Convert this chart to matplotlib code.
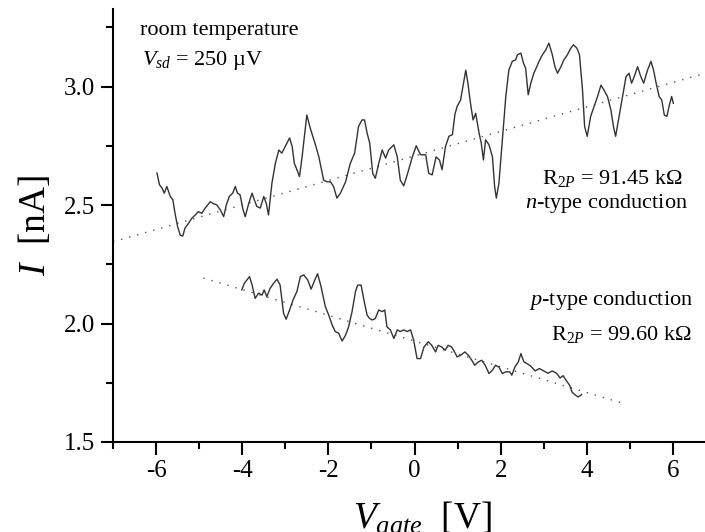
import matplotlib
matplotlib.use("Agg")
import matplotlib.pyplot as plt
from matplotlib.ticker import MultipleLocator, FormatStrFormatter

# n-type branch (upper trace)
upper_x = [-5.98, -5.92, -5.86, -5.81, -5.75, -5.67, -5.61, -5.56, -5.50, -5.44,
           -5.38, -5.33, -5.25, -5.17, -5.09, -5.02, -4.94, -4.86, -4.74, -4.67,
           -4.59, -4.51, -4.43, -4.37, -4.30, -4.22, -4.16, -4.11, -4.05, -3.98,
           -3.93, -3.85, -3.77, -3.72, -3.66, -3.58, -3.50, -3.44, -3.39, -3.31,
           -3.23, -3.15, -3.08, -3.00, -2.90, -2.84, -2.79, -2.73, -2.67, -2.61,
           -2.50, -2.42, -2.30, -2.22, -2.11, -2.03, -1.95, -1.88, -1.80, -1.72,
           -1.60, -1.49, -1.39, -1.30, -1.22, -1.16, -1.10, -1.04, -0.97, -0.91,
           -0.83, -0.75, -0.67, -0.60, -0.48, -0.40, -0.33, -0.25, -0.17, -0.05,
           0.04, 0.14, 0.26, 0.33, 0.41, 0.50, 0.58, 0.64, 0.72, 0.80,
           0.88, 0.94, 0.99, 1.07, 1.15, 1.19, 1.24, 1.30, 1.36, 1.42,
           1.50, 1.55, 1.60, 1.65, 1.73, 1.81, 1.86, 1.90, 1.96, 2.04,
           2.12, 2.19, 2.27, 2.35, 2.39, 2.47, 2.53, 2.58, 2.64, 2.70,
           2.77, 2.84, 2.89, 2.97, 3.05, 3.12, 3.20, 3.26, 3.32, 3.40,
           3.47, 3.55, 3.63, 3.69, 3.77, 3.83, 3.90, 3.95, 4.01, 4.09,
           4.17, 4.25, 4.33, 4.40, 4.48, 4.56, 4.62, 4.67, 4.75, 4.83,
           4.91, 4.98, 5.04, 5.10, 5.18, 5.24, 5.32, 5.41, 5.49, 5.55,
           5.61, 5.68, 5.74, 5.80, 5.86, 5.91, 5.97, 6.01]
upper_y = [2.635, 2.585, 2.571, 2.550, 2.578, 2.536, 2.522, 2.465, 2.409, 2.373,
           2.369, 2.402, 2.422, 2.444, 2.458, 2.472, 2.465, 2.487, 2.514, 2.506,
           2.500, 2.480, 2.451, 2.500, 2.536, 2.550, 2.578, 2.550, 2.543, 2.480,
           2.451, 2.506, 2.550, 2.522, 2.494, 2.487, 2.536, 2.506, 2.458, 2.592,
           2.676, 2.732, 2.719, 2.747, 2.783, 2.747, 2.676, 2.649, 2.620, 2.703,
           2.880, 2.824, 2.754, 2.703, 2.605, 2.598, 2.598, 2.578, 2.529, 2.550,
           2.598, 2.676, 2.719, 2.831, 2.859, 2.859, 2.803, 2.761, 2.634, 2.613,
           2.676, 2.732, 2.698, 2.732, 2.754, 2.703, 2.605, 2.581, 2.627, 2.703,
           2.750, 2.712, 2.712, 2.634, 2.627, 2.703, 2.690, 2.649, 2.747, 2.790,
           2.797, 2.884, 2.916, 2.943, 3.027, 3.069, 3.014, 2.929, 2.859, 2.887,
           2.803, 2.761, 2.690, 2.775, 2.754, 2.703, 2.578, 2.529, 2.592, 2.775,
           2.958, 3.069, 3.106, 3.113, 3.134, 3.141, 3.099, 3.077, 2.965, 3.014,
           3.056, 3.084, 3.106, 3.134, 3.155, 3.183, 3.134, 3.084, 3.056, 3.084,
           3.113, 3.134, 3.162, 3.176, 3.162, 3.134, 2.987, 2.831, 2.790, 2.874,
           2.916, 2.958, 3.006, 2.985, 2.958, 2.901, 2.830, 2.790, 2.874, 2.958,
           3.041, 3.056, 3.014, 3.041, 3.084, 3.049, 3.014, 3.069, 3.106, 3.069,
           3.014, 2.958, 2.943, 2.880, 2.874, 2.916, 2.958, 2.929]

# p-type branch (lower trace)
lower_x = [-4.01, -3.95, -3.89, -3.83, -3.77, -3.70, -3.62, -3.54, -3.49, -3.43,
           -3.35, -3.27, -3.19, -3.12, -3.04, -2.98, -2.90, -2.82, -2.73, -2.65,
           -2.57, -2.48, -2.40, -2.33, -2.25, -2.17, -2.07, -1.99, -1.91, -1.84,
           -1.76, -1.68, -1.60, -1.53, -1.45, -1.37, -1.32, -1.24, -1.16, -1.10,
           -1.04, -0.98, -0.91, -0.83, -0.75, -0.69, -0.64, -0.56, -0.48, -0.40,
           -0.33, -0.25, -0.17, -0.09, -0.02, 0.06, 0.14, 0.22, 0.32, 0.40,
           0.49, 0.55, 0.63, 0.71, 0.78, 0.86, 0.91, 0.99, 1.07, 1.17,
           1.25, 1.33, 1.40, 1.48, 1.56, 1.64, 1.73, 1.81, 1.88, 1.96,
           2.04, 2.12, 2.21, 2.26, 2.33, 2.41, 2.47, 2.54, 2.62, 2.70,
           2.80, 2.90, 3.00, 3.10, 3.20, 3.30, 3.38, 3.45, 3.52, 3.60,
           3.66, 3.72, 3.80, 3.88]
lower_y = [2.142, 2.170, 2.184, 2.198, 2.162, 2.106, 2.128, 2.120, 2.142, 2.113,
           2.149, 2.170, 2.187, 2.162, 2.043, 2.018, 2.057, 2.099, 2.135, 2.198,
           2.205, 2.184, 2.145, 2.177, 2.210, 2.156, 2.071, 2.035, 1.993, 1.966,
           1.959, 1.926, 1.951, 1.986, 2.050, 2.135, 2.162, 2.162, 2.086, 2.035,
           2.021, 2.015, 2.021, 2.057, 2.050, 2.057, 1.986, 1.973, 1.937, 1.973,
           1.966, 1.973, 1.966, 1.973, 1.930, 1.852, 1.852, 1.901, 1.923, 1.908,
           1.880, 1.908, 1.901, 1.887, 1.908, 1.901, 1.887, 1.859, 1.866, 1.880,
           1.866, 1.845, 1.824, 1.838, 1.845, 1.824, 1.789, 1.803, 1.824, 1.816,
           1.789, 1.796, 1.796, 1.782, 1.816, 1.838, 1.873, 1.838, 1.830, 1.820,
           1.800, 1.810, 1.800, 1.790, 1.800, 1.790, 1.770, 1.780, 1.760, 1.740,
           1.710, 1.700, 1.690, 1.700]

# linear fits (dotted)
fit_n_x = [-7.0, 7.0]
fit_n_y = [2.345, 3.069]
fit_p_x = [-4.9, 4.9]
fit_p_y = [2.192, 1.660]

plt.rcParams["font.family"] = ["Liberation Serif", "DejaVu Serif"]
plt.rcParams["mathtext.fontset"] = "custom"
plt.rcParams["mathtext.rm"] = "Liberation Serif"
plt.rcParams["mathtext.it"] = "Liberation Serif:italic"
plt.rcParams["axes.unicode_minus"] = False

fig = plt.figure(figsize=(7.05, 5.32), dpi=100)
ax = fig.add_axes([113 / 705, 90 / 532, 603 / 705, 432.5 / 532])

ax.plot(fit_n_x, fit_n_y, color="#555555", lw=1.0, ls=(0, (1, 5)))
ax.plot(fit_p_x, fit_p_y, color="#555555", lw=1.0, ls=(0, (1, 5)))
ax.plot(upper_x, upper_y, color="#333333", lw=1.0)
ax.plot(lower_x, lower_y, color="#333333", lw=1.0)

ax.set_xlim(-7, 7)
ax.set_ylim(1.5, 3.325)
ax.xaxis.set_major_locator(MultipleLocator(2))
ax.xaxis.set_minor_locator(MultipleLocator(1))
ax.yaxis.set_major_locator(MultipleLocator(0.5))
ax.yaxis.set_minor_locator(MultipleLocator(0.25))
ax.yaxis.set_major_formatter(FormatStrFormatter("%.1f"))
for s in ("top", "right"):
    ax.spines[s].set_visible(False)
for s in ("left", "bottom"):
    ax.spines[s].set_linewidth(1.5)
ax.tick_params(which="major", direction="out", length=9, width=1.5, labelsize=18, pad=4)
ax.tick_params(which="minor", direction="out", length=5, width=1.5)

ax.set_ylabel(r"$I$  [nA]", fontsize=27, labelpad=8)
fig.text(422 / 705, 4 / 532, r"$V_{gate}$  [V]", fontsize=27, ha="center", va="baseline")

ax.text(-6.37, 3.217, "room temperature", fontsize=16)
ax.text(-6.33, 3.09, r"$V_{sd}$ = 250 µV", fontsize=16)
ax.text(6.22, 2.59, r"R$_{2P}$ = 91.45 kΩ", fontsize=16, ha="right")
ax.text(6.34, 2.486, r"$n$-type conduction", fontsize=16, ha="right")
ax.text(6.48, 2.078, r"$p$-type conduction", fontsize=16, ha="right")
ax.text(6.43, 1.93, r"R$_{2P}$ = 99.60 kΩ", fontsize=16, ha="right")

fig.savefig("out.png", dpi=100)
